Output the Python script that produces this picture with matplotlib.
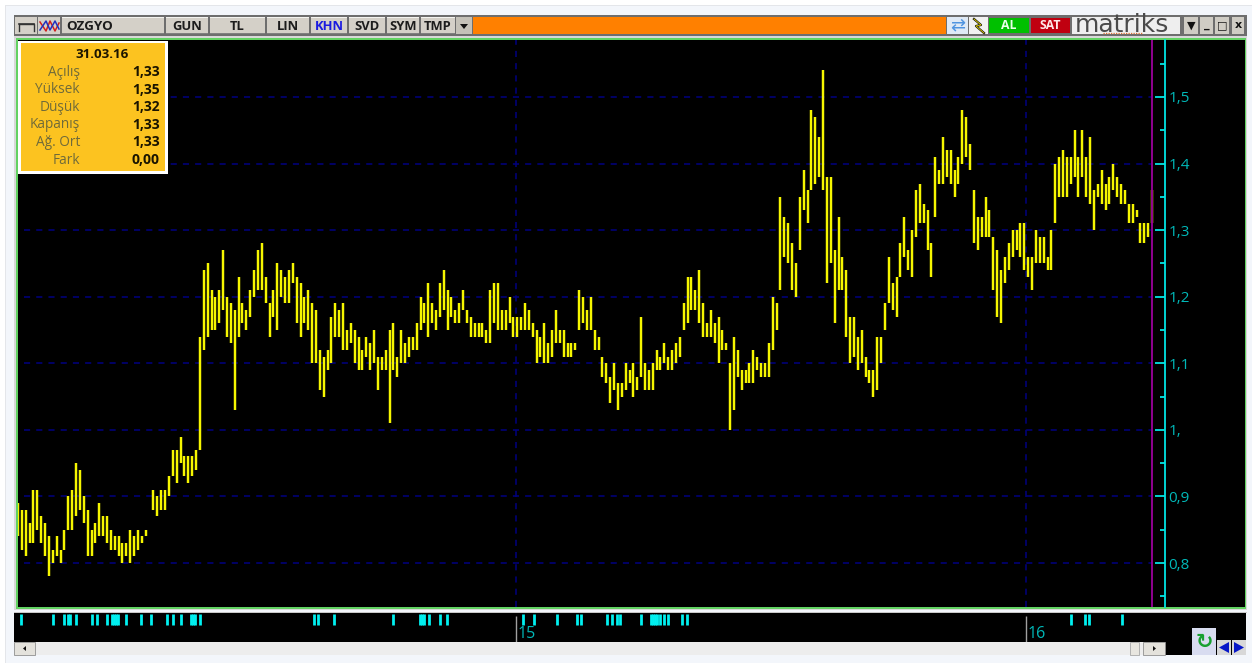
import numpy as np
import matplotlib
matplotlib.use("Agg")
import matplotlib.pyplot as plt
from matplotlib.patches import Rectangle, Polygon
from matplotlib.ticker import MultipleLocator, FixedLocator, FixedFormatter

plt.rcParams['font.family'] = ['Open Sans', 'DejaVu Sans']

W, H = 1252, 663

# daily high / low in kurus
highs = [
 89,88,88,86,91,91,87,86,84,82,84,82,85,90,91,95,94,90,88,85,86,89,87,87,85,84,84,83,83,85,84,85,84,85,86,91,90,91,91,93,97,97,99,96,96,96,97,114,
 124,125,121,120,121,127,120,119,118,123,119,118,121,124,127,128,123,119,121,125,124,123,124,125,123,122,120,121,119,118,112,111,112,117,119,118,119,115,116,115,114,112,114,113,115,111,111,112,115,116,111,115,113,114,114,116,
 120,119,122,119,118,122,124,121,120,118,119,121,118,117,116,116,116,115,121,122,122,118,118,120,117,117,117,119,118,116,115,114,116,113,115,118,115,115,113,113,113,121,120,118,120,115,114,111,110,108,110,107,107,110,109,110,108,117,110,109,110,112,111,113,111,112,113,114,119,123,123,121,124,119,116,118,116,117,115,113,110,114,112,109,109,110,112,111,110,110,113,120,119,
 135,132,131,128,125,135,139,136,148,147,144,154,138,138,127,132,126,124,117,117,114,115,111,109,109,114,114,119,126,122,123,128,132,127,130,136,137,134,133,128,141,139,144,142,142,139,141,148,147,143,136,132,132,135,133,129,127,124,126,128,130,130,131,131,126,126,130,129,129,126,130,140,141,142,141,141,145,141,145,141,144,136,137,139,137,138,140,138,137,136,134,134,133,131,131,131,136]
lows = [
 84,82,81,83,83,85,83,81,78,80,81,80,82,85,85,87,88,86,81,81,83,84,84,83,82,82,81,80,81,80,81,82,83,84,86,88,87,88,88,90,93,92,95,93,92,93,94,97,
 112,114,115,115,116,118,114,113,103,114,116,115,117,120,121,121,119,114,117,115,120,119,119,122,116,114,116,115,110,110,106,105,109,110,114,114,112,112,113,110,109,109,111,109,110,106,109,109,101,109,108,110,110,111,112,112,
 115,116,114,116,115,117,118,115,117,116,116,118,116,114,114,114,114,113,113,116,115,115,115,116,114,114,115,115,115,114,110,111,110,110,111,113,113,111,111,111,112,115,116,115,115,112,112,108,107,104,106,103,105,106,107,105,106,108,106,106,106,109,109,110,109,109,110,111,115,116,118,118,116,114,114,114,113,110,112,112,100,103,108,106,107,107,107,109,108,108,108,112,115,
 121,126,125,121,120,127,133,131,136,137,138,136,122,125,116,121,121,114,110,111,109,110,108,107,105,106,110,115,119,118,117,123,126,124,123,129,131,131,127,123,132,137,137,138,137,135,137,140,141,139,128,127,129,129,129,121,117,116,122,124,126,127,126,124,123,121,125,125,125,124,124,131,135,135,135,137,138,135,138,135,134,130,135,134,133,134,136,135,134,134,131,131,132,128,128,129,131]

year_positions = [498, 1008]          # px offset of first session of the year
year_labels = ['15', '16']
price_ticks = [0.8, 0.9, 1.0, 1.1, 1.2, 1.3, 1.4, 1.5]
price_labels = ['0,8', '0,9', '1,', '1,1', '1,2', '1,3', '1,4', '1,5']
signals = [3,34.5,46,50,52,58,74,79,89,93.5,95.5,97.5,99.5,108,123,133,149,155,163,173,175,177,182,296,299.5,316,375,
           402,404,406,411,422,429,505,516,539,559,563,589,594,599,602,623,633,635,637,639,641.5,645.5,650,664,669,1053,1067,1071,1104]
info_names = ['Açılış', 'Yüksek', 'Düşük', 'Kapanış', 'Ağ. Ort', 'Fark']
info_vals = ['1,33', '1,35', '1,32', '1,33', '1,33', '0,00']
buttons = [('OZGYO', 62, 164), ('GUN', 166, 208), ('TL', 210, 265), ('LIN', 267, 309), ('KHN', 311, 347),
           ('SVD', 349, 385), ('SYM', 387, 419), ('TMP', 421, 455)]

fig = plt.figure(figsize=(W/100, H/100), dpi=100, facecolor='#f3f6fb')
bg = fig.add_axes([0, 0, 1, 1])
bg.set_xlim(0, W); bg.set_ylim(H, 0); bg.axis('off')

def box(x0, y0, x1, y1, fc, ec='none', lw=0, z=1):
    bg.add_patch(Rectangle((x0, y0), x1-x0, y1-y0, fc=fc, ec=ec, lw=lw, zorder=z))

# window frame
box(0, 0, W, 5, '#ffffff'); box(0, 0, 5, H, '#ffffff'); box(5, 5, W, 6, '#e4e6ea')
box(5, 6, 6, H, '#e4e6ea')
box(14, 15, 1247, 36, '#6e6e6e')
box(15, 17, 37, 34, '#d4d0c8'); box(38, 17, 60, 34, '#d4d0c8')
bg.plot([19, 34], [24, 24], color='#333333', lw=1.2, zorder=2)
bg.plot([19, 19, 34, 34], [31, 24, 24, 31], color='#333333', lw=1, zorder=2)
bg.plot([40, 46, 50, 55, 59], [22, 31, 21, 31, 23], color='#d02020', lw=1.1, zorder=2)
bg.plot([40, 46, 50, 55, 59], [30, 21, 30, 21, 29], color='#2030c0', lw=1.1, zorder=2)
for name, x0, x1 in buttons:
    box(x0, 17, x1, 34, '#d4d0c8')
    box(x0, 17, x1, 18, '#f4f4f0', z=2); box(x0, 33, x1, 34, '#808080', z=2)
    col = '#1a1ae0' if name == 'KHN' else '#1c1c1c'
    if name == 'OZGYO':
        bg.text(66, 27, name, ha='left', va='center', fontsize=9.6, weight='bold', color=col, zorder=3)
    else:
        bg.text((x0+x1)/2, 27, name, ha='center', va='center', fontsize=9.4, weight='bold', color=col, zorder=3)
box(456, 17, 472, 34, '#c4c1b8')
bg.add_patch(Polygon([[460, 24], [468, 24], [464, 29]], fc='#111111', zorder=3))
box(473, 17, 946, 34, '#ff8000')
box(947, 17, 968, 34, '#dfe9f5')
bg.text(957.5, 25.5, '⇄', ha='center', va='center', fontsize=13, color='#4f94e0', zorder=3)
box(969, 17, 988, 34, '#f1f1f1')
bg.plot([974, 981, 976, 984], [19, 25, 26, 33], color='#111111', lw=1.6, zorder=3)
bg.plot([974, 981, 976, 984], [19, 25, 26, 33], color='#e8d800', lw=0.6, zorder=4)
box(989, 18, 1029, 33, '#00c000')
bg.text(1009, 25.5, 'AL', ha='center', va='center', fontsize=8.8, weight='bold', color='#eaffea', zorder=3)
box(1031, 18, 1070, 33, '#c00010')
bg.text(1050.5, 25.5, 'SAT', ha='center', va='center', fontsize=8.8, weight='bold', color='#ffe8e8', zorder=3)
box(1072, 17, 1180, 34, '#eeeeee')
bg.text(1075, 24.5, 'matriks', ha='left', va='center', fontsize=18, color='#4a4a4a', zorder=3, family='DejaVu Sans')
bg.plot([1103, 1142], [32.5, 32.5], color='#e07030', lw=0.9, ls=(0, (1, 1)), zorder=3)
for x0, x1, s in [(1184, 1198, '▼'), (1200, 1213, '_'), (1215, 1229, '□'), (1232, 1244, 'x')]:
    box(x0, 17, x1, 34, '#cfccc4')
    bg.text((x0+x1)/2, 25.5, s, ha='center', va='center', fontsize=8, weight='bold', color='#111111', zorder=3, family='DejaVu Sans')

# chart panel
box(14, 36, 1247, 610, '#d8d8d8')
box(16, 38, 1246, 609, '#62d262')
box(18, 40, 1245, 607, '#000000')

def px_axes(x0, y0, x1, y1):
    return fig.add_axes([x0/W, 1-y1/H, (x1-x0)/W, (y1-y0)/H])

ax = px_axes(18, 40, 1165, 607)
ax.patch.set_alpha(0)
n = len(highs)
step = (1152-18) / (n-1)
pos = np.arange(n) * step
hi = np.array(highs) / 100
lo = np.array(lows) / 100
ax.set_xlim(0, 1165-18)
ax.set_ylim(0.8-44/666, 1.5+57/666)

ax.hlines(price_ticks, 6, 1134, color='#000080', lw=1.1, ls=(0, (4, 4)), zorder=1)
ax.vlines(year_positions, 0.8-44/666, 1.5+57/666, color='#000080', lw=1.1, ls=(0, (4, 4)), zorder=1)
ax.vlines(pos, lo, hi, color='#f6f600', lw=1.75, zorder=3)
ax.axvline(1134, color='#900090', lw=1.4, zorder=4)

for s in ['top', 'left', 'bottom']:
    ax.spines[s].set_visible(False)
ax.spines['right'].set_color('#00e5e5'); ax.spines['right'].set_linewidth(1.3)
ax.xaxis.set_visible(False)
ax.yaxis.tick_right()
ax.yaxis.set_major_locator(FixedLocator(price_ticks))
ax.yaxis.set_major_formatter(FixedFormatter(price_labels))
ax.yaxis.set_minor_locator(MultipleLocator(0.05))
ax.tick_params(axis='y', which='major', direction='in', length=7.2, width=1.3, color='#00e5e5',
               labelcolor='#00b8b8', labelsize=11, pad=2.5)
ax.tick_params(axis='y', which='minor', direction='in', length=3.6, width=1.3, color='#00e5e5')

bg.set_zorder(0); ax.set_zorder(1)

# info box
ov = fig.add_axes([0, 0, 1, 1]); ov.set_xlim(0, W); ov.set_ylim(H, 0); ov.axis('off'); ov.patch.set_alpha(0); ov.set_zorder(3)
ov.add_patch(Rectangle((18, 41), 150, 133, fc='#ffffff', ec='none'))
ov.add_patch(Rectangle((21, 43), 144, 128, fc='#fcc320', ec='none'))
ov.text(102, 54.5, '31.03.16', ha='center', va='center', fontsize=9.6, weight='bold', color='#1a1400')
for i, (a, b) in enumerate(zip(info_names, info_vals)):
    y = 72 + i*17.6
    ov.text(80, y, a, ha='right', va='center', fontsize=9.8, color='#6f6a3a')
    ov.text(160, y, b, ha='right', va='center', fontsize=10, weight='bold', color='#1a1400')

# lower strip
box(14, 612, 1247, 613, '#c8c8c8')
box(14, 613, 1246, 642, '#000000')
strip = px_axes(18, 613, 1165, 642)
strip.patch.set_alpha(0); strip.set_zorder(2)
strip.set_xlim(0, 1165-18); strip.set_ylim(1, 0); strip.axis('off')
strip.vlines(signals, 0.04, 0.4, color='#00f0f0', lw=2.0)
strip.vlines(year_positions, 0.1, 1, color='#a0a0a0', lw=1.0)
for p, l in zip(year_positions, year_labels):
    strip.text(p+2, 0.72, l, ha='left', va='center', fontsize=11.5, color='#00b8b8')

# scrollbar
box(14, 642, 1165, 655, '#ededed')
box(1165, 642, 1246, 655, '#000000')
box(14, 642, 35, 655, '#e4e2dc', ec='#909090', lw=0.6, z=2)
bg.add_patch(Polygon([[23, 648.5], [26, 646], [26, 651]], fc='#111111', zorder=3))
box(1130, 642, 1139, 655, '#e8e6e0', ec='#a8a8a8', lw=0.6, z=2)
box(1143, 642, 1165, 655, '#e4e2dc', ec='#909090', lw=0.6, z=2)
bg.add_patch(Polygon([[1156, 648.5], [1153, 646], [1153, 651]], fc='#111111', zorder=3))
ov.add_patch(Rectangle((1192, 628), 24, 27, fc='#d8dcf0', ec='none'))
ov.text(1204, 641.5, '↻', ha='center', va='center', fontsize=15, weight='bold', color='#18a030', family='DejaVu Sans')
ov.add_patch(Rectangle((1217, 640), 14, 15, fc='#d8d8d8', ec='none'))
ov.add_patch(Rectangle((1232, 640), 14, 15, fc='#d8d8d8', ec='none'))
ov.add_patch(Polygon([[1219, 647.5], [1229, 642], [1229, 653]], fc='#0818c8'))
ov.add_patch(Polygon([[1244, 647.5], [1234, 642], [1234, 653]], fc='#0818c8'))

fig.savefig('out.png', dpi=100, facecolor=fig.get_facecolor())
